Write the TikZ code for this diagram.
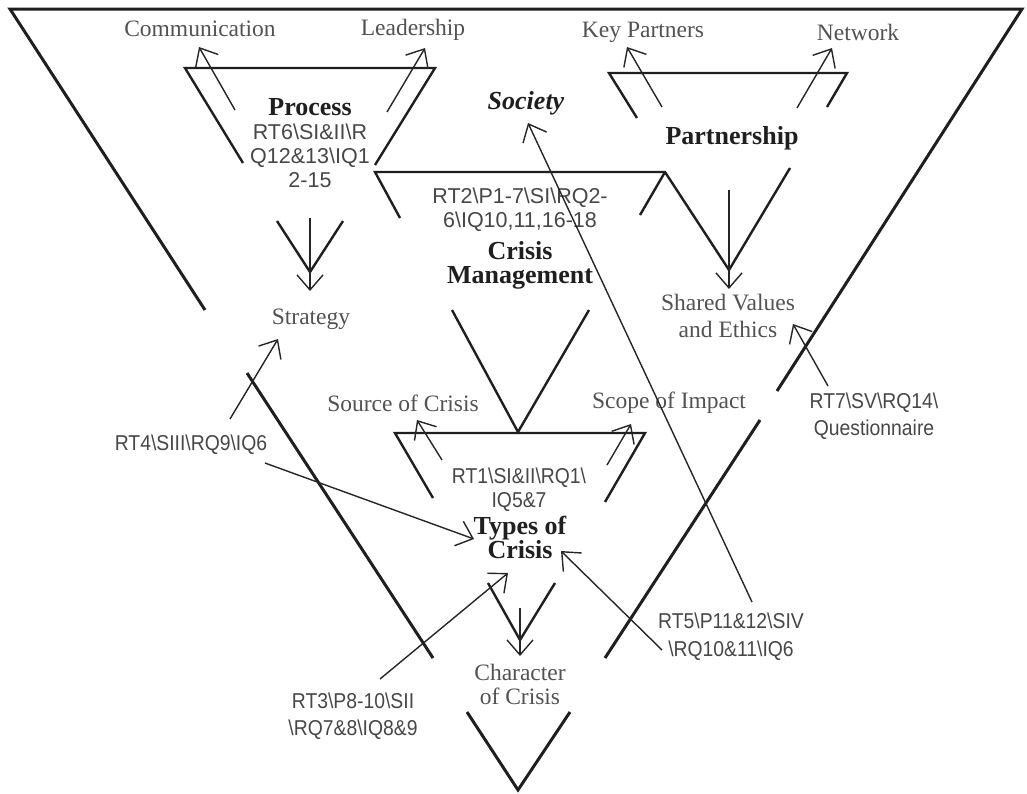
\documentclass[tikz,border=0pt]{standalone}
\usepackage{fontspec}
\setmainfont{Liberation Serif}
\newfontfamily\codefont[FakeStretch=0.9]{Liberation Sans}
\newfontfamily\codewide{Liberation Sans}
\usetikzlibrary{arrows.meta}
\newcommand{\bsl}{\textbackslash}

\begin{document}
\begin{tikzpicture}[x=1pt,y=-1pt,
  frame/.style={line width=3pt, draw=black!88, line join=miter},
  tri/.style={line width=2.4pt, draw=black!88, line join=miter},
  arr/.style={line width=1.4pt, draw=black!85,
    -{Straight Barb[length=15pt,width=26pt,line width=1.4pt]}},
  term/.style={font=\fontsize{23.5}{27}\selectfont, text=black!68, inner sep=1pt, align=center},
  title/.style={font=\fontsize{26}{24}\selectfont\bfseries, text=black!88, inner sep=1pt, align=center},
  code/.style={font=\codefont\fontsize{21.5}{27}\selectfont, text=black!72, inner sep=1pt, align=center},
  codewide/.style={font=\codewide\fontsize{21.5}{24}\selectfont, text=black!72, inner sep=1pt, align=center},
]
\useasboundingbox (0,0) rectangle (1027,793);

% outer inverted triangle, interrupted around the labels
\draw[frame] (205,310) -- (10,9) -- (1022,9) -- (777,391);
\draw[frame] (247,373) -- (433,658);
\draw[frame] (760,420) -- (605,658);
\draw[frame] (467,712) -- (518,790) -- (570,712);

% Process triangle
\draw[tri] (243,163) -- (185,68) -- (435,68) -- (375,165);
\draw[tri] (277,221) -- (310,272) -- (343,221);

% Crisis Management triangle, joined to the Partnership triangle
\draw[tri] (400,218) -- (375,172) -- (665,172) -- (729,270) -- (790,168);
\draw[tri] (665,172) -- (640,215);
\draw[tri] (452,310) -- (518,432) -- (589,310);

% Partnership triangle
\draw[tri] (637,118) -- (609,73) -- (847,73) -- (827,107);

% Types of Crisis triangle
\draw[tri] (433,498) -- (395,433) -- (645,433) -- (605,502);
\draw[tri] (488,583) -- (520,640) -- (555,583);

% labels
\node[term] (comm) at (200,29) {Communication};
\node[term] (lead) at (413,30) {Leadership};
\node[term] (keyp) at (643,32) {Key Partners};
\node[term] (netw) at (858,32) {Network};
\node[title] (process) at (310,107) {Process};
\node[codewide] (rt6) at (310,156) {RT6\bsl SI\&II\bsl R\\Q12\&13\bsl IQ1\\2-15};
\node[title, font=\fontsize{26}{24}\selectfont\bfseries\itshape] (society) at (526,103) {Society};
\node[title] (partner) at (732,138) {Partnership};
\node[codewide] (rt2) at (520,210) {RT2\bsl P1-7\bsl SI\bsl RQ2-\\6\bsl IQ10,11,16-18};
\node[title] (cm) at (520,265) {Crisis\\Management};
\node[term] (strategy) at (311,319) {Strategy};
\node[term] (shared) at (728,316) {Shared Values\\and Ethics};
\node[code] (rt7) at (874,416) {RT7\bsl SV\bsl RQ14\bsl\\Questionnaire};
\node[term] (source) at (403,403) {Source of Crisis};
\node[term] (scope) at (669,403) {Scope of Impact};
\node[code] (rt4) at (191,445) {RT4\bsl SIII\bsl RQ9\bsl IQ6};
\node[code, font=\codefont\fontsize{21.5}{24}\selectfont] (rt1) at (519,490) {RT1\bsl SI\&II\bsl RQ1\bsl\\IQ5\&7};
\node[title] (types) at (520,537) {Types of\\Crisis};
\node[code, font=\codefont\fontsize{21.5}{28}\selectfont] (rt5) at (731,637) {RT5\bsl P11\&12\bsl SIV\\\bsl RQ10\&11\bsl IQ6};
\node[code] (rt3) at (353,716) {RT3\bsl P8-10\bsl SII\\\bsl RQ7\&8\bsl IQ8\&9};
\node[term, font=\fontsize{23.5}{24}\selectfont] (character) at (520,684) {Character\\of Crisis};

% connector end points
\coordinate (procA) at (235,110);  \coordinate (commT) at (199,47);
\coordinate (procB) at (387,112);  \coordinate (leadT) at (425,48);
\coordinate (procC) at (310,218);  \coordinate (stratT) at (310,291);
\coordinate (partA) at (662,107);  \coordinate (keypT) at (627,47);
\coordinate (partB) at (797,108);  \coordinate (netwT) at (832,48);
\coordinate (partC) at (729,190);  \coordinate (sharedT) at (729,289);
\coordinate (typA) at (442,460);   \coordinate (sourceT) at (417,420);
\coordinate (typB) at (607,465);   \coordinate (scopeT) at (631,424);
\coordinate (typC) at (520,608);   \coordinate (charT) at (520,656);
\coordinate (rt4A) at (230,419);   \coordinate (stratR) at (278,339);
\coordinate (rt4B) at (265,463);   \coordinate (typesW) at (474,539);
\coordinate (rt3A) at (380,679);   \coordinate (typesS) at (508,573);
\coordinate (rt5A) at (662,650);   \coordinate (typesE) at (561,551);
\coordinate (rt5B) at (752,602);   \coordinate (socT) at (528,123);
\coordinate (rt7A) at (828,386);   \coordinate (sharedR) at (793,324);

% arrows
\draw[arr] (procA) -- (commT);
\draw[arr] (procB) -- (leadT);
\draw[arr] (procC) -- (stratT);
\draw[arr] (partA) -- (keypT);
\draw[arr] (partB) -- (netwT);
\draw[arr] (partC) -- (sharedT);
\draw[arr] (typA) -- (sourceT);
\draw[arr] (typB) -- (scopeT);
\draw[arr] (typC) -- (charT);
\draw[arr] (rt4A) -- (stratR);
\draw[arr] (rt4B) -- (typesW);
\draw[arr] (rt3A) -- (typesS);
\draw[arr] (rt5A) -- (typesE);
\draw[arr] (rt5B) -- (socT);
\draw[arr] (rt7A) -- (sharedR);
\end{tikzpicture}
\end{document}
